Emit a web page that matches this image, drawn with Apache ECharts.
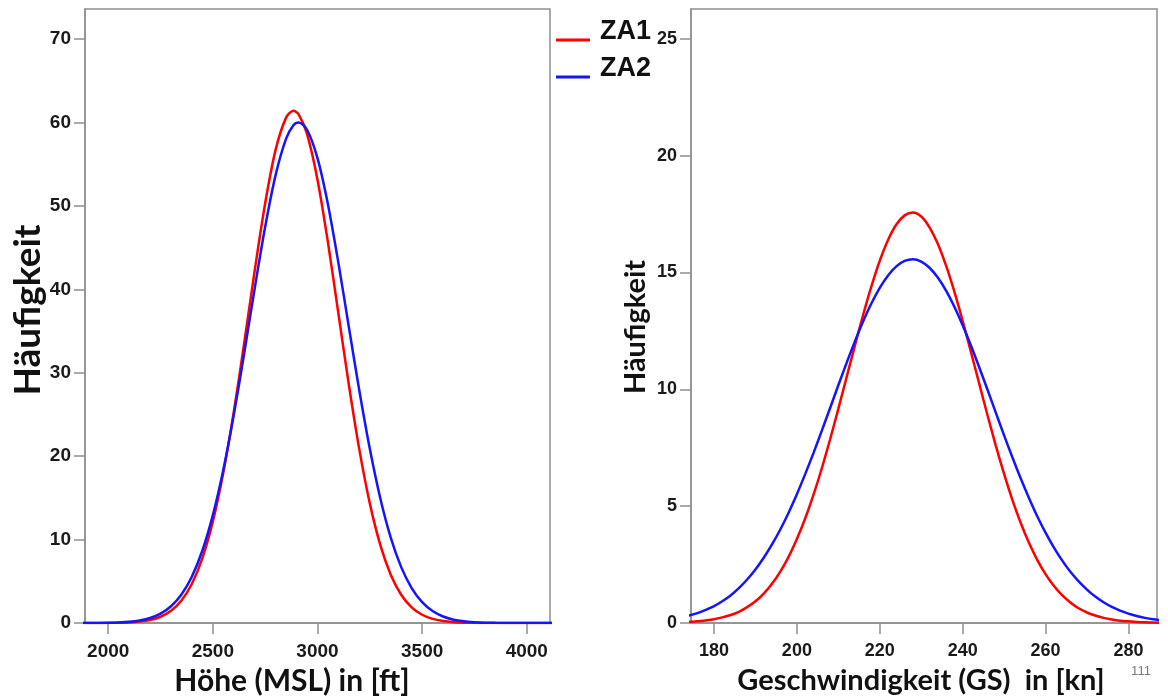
<!DOCTYPE html>
<html><head><meta charset="utf-8">
<script src="https://cdn.jsdelivr.net/npm/echarts@6/dist/echarts.min.js"></script>
<style>html,body{margin:0;padding:0;background:#fff}#c{width:1168px;height:698px}</style>
</head><body><div id="c"></div>
<script>
// ---- data ----
const heightX = [1850,1900,1950,2000,2050,2100,2150,2200,2250,2300,2350,2400,2450,2500,2550,2600,2650,2700,2750,2800,2850,2885,2910,2950,3000,3050,3100,3150,3200,3250,3300,3350,3400,3450,3500,3550,3600,3650,3700,3750,3800,3850,3900,3950,4000,4050,4100,4150];
const za1Height = [0,0,0,0.01,0.03,0.07,0.17,0.37,0.75,1.46,2.70,4.71,7.78,12.17,18.03,25.30,33.60,42.26,50.32,56.74,60.58,61.40,60.98,58.63,53.14,45.61,37.07,28.53,20.78,14.34,9.37,5.79,3.39,1.88,0.99,0.49,0.23,0.10,0.04,0.02,0.01,0,0,0,0,0,0,0];
const za2Height = [0,0.01,0.01,0.03,0.07,0.15,0.31,0.60,1.12,2.01,3.42,5.58,8.69,12.93,18.37,24.95,32.37,40.11,47.49,53.72,58.06,59.66,60.00,59.13,55.72,50.17,43.15,35.46,27.84,20.88,14.96,10.24,6.70,4.19,2.50,1.43,0.78,0.40,0.20,0.10,0.04,0.02,0.01,0,0,0,0,0];

const speedX = [172,174,176,178,180,182,184,186,188,190,192,194,196,198,200,202,204,206,208,210,212,214,216,218,220,222,224,226,228,230,232,234,236,238,240,242,244,246,248,250,252,254,256,258,260,262,264,266,268,270,272,274,276,278,280,282,284,286,288];
const za1Speed = [0.03,0.05,0.07,0.11,0.16,0.24,0.34,0.48,0.68,0.93,1.26,1.68,2.20,2.83,3.59,4.47,5.48,6.61,7.85,9.16,10.52,11.87,13.19,14.41,15.50,16.39,17.05,17.44,17.56,17.39,16.93,16.23,15.29,14.18,12.93,11.60,10.24,8.89,7.59,6.38,5.27,4.29,3.43,2.70,2.09,1.59,1.19,0.88,0.63,0.45,0.32,0.22,0.15,0.10,0.07,0.04,0.03,0.02,0.01];
const za2Speed = [0.24,0.32,0.42,0.56,0.72,0.93,1.18,1.49,1.86,2.29,2.79,3.36,4.00,4.72,5.51,6.37,7.27,8.22,9.19,10.17,11.13,12.05,12.91,13.68,14.34,14.87,15.26,15.49,15.56,15.46,15.20,14.78,14.22,13.53,12.74,11.87,10.94,9.98,9.00,8.03,7.09,6.19,5.35,4.57,3.87,3.24,2.68,2.19,1.78,1.43,1.13,0.89,0.69,0.53,0.40,0.30,0.22,0.16,0.12];

const heightTicks = [2000,2500,3000,3500,4000];
const heightCountTicks = [0,10,20,30,40,50,60,70];
const speedTicks = [180,200,220,240,260,280];
const speedCountTicks = [0,5,10,15,20,25];

const seriesNames = ['ZA1','ZA2'];
const xTitles = ['Höhe (MSL) in [ft]', 'Geschwindigkeit (GS)  in [kn]'];
const yTitle = 'Häufigkeit';
const pageNumber = '111';

// ---- chart ----
function zip(xs, ys){ return xs.map((x,i)=>[x, ys[i]]); }
const gray = '#8f8f8f';
const colors = ['#ff0000', '#1414ff'];
const plain = v => String(v);

function xAx(gridIndex, min, max, ticks, fs){
  return {type:'value', gridIndex, min, max,
    axisLine:{show:true, onZero:false, lineStyle:{color:gray, width:1.5}},
    axisTick:{show:true, length:11, customValues:ticks, lineStyle:{color:gray, width:1.5}},
    axisLabel:{customValues:ticks, formatter:plain, margin:19, color:'#1a1a1a', fontFamily:'Liberation Sans', fontWeight:'bold', fontSize:fs},
    splitLine:{show:false}};
}
function yAx(gridIndex, min, max, ticks, fs){
  return {type:'value', gridIndex, min, max,
    axisLine:{show:true, onZero:false, lineStyle:{color:gray, width:1.5}},
    axisTick:{show:true, length:11, customValues:ticks, lineStyle:{color:gray, width:1.5}},
    axisLabel:{customValues:ticks, formatter:plain, margin:14, color:'#1a1a1a', fontFamily:'Liberation Sans', fontWeight:'bold', fontSize:fs},
    splitLine:{show:false}};
}
function line(name, data, xi, color){
  return {type:'line', name, data, xAxisIndex:xi, yAxisIndex:xi, smooth:0.3, symbol:'none',
    lineStyle:{color, width:2.5}, itemStyle:{color}, clip:true};
}

const chart = echarts.init(document.getElementById('c'), null, {renderer:'canvas'});
chart.setOption({
  animation:false,
  backgroundColor:'#fff',
  grid:[
    {left:85, top:9, width:465, height:614, show:true, borderColor:gray, borderWidth:1.5, backgroundColor:'transparent'},
    {left:691, top:9, width:466, height:614, show:true, borderColor:gray, borderWidth:1.5, backgroundColor:'transparent'}
  ],
  xAxis:[ xAx(0, 1889, 4111, heightTicks, 19), xAx(1, 174.45, 286.9, speedTicks, 18) ],
  yAxis:[ yAx(0, 0, 73.6, heightCountTicks, 19), yAx(1, 0, 26.27, speedCountTicks, 18) ],
  legend:{
    data:seriesNames, orient:'vertical', left:551, top:13, itemWidth:34, itemHeight:26, itemGap:10,
    icon:'path://M0,0L0.1,0L0,0.1Z M0,20L34,20L34,23L0,23Z M34,26L33.9,26L34,25.9Z',
    itemStyle:{borderWidth:0}, selectedMode:false,
    textStyle:{fontFamily:'Liberation Sans', fontWeight:'bold', fontSize:27, color:'#111', padding:[0,0,0,5]}
  },
  series:[
    line(seriesNames[0], zip(heightX, za1Height), 0, colors[0]),
    line(seriesNames[1], zip(heightX, za2Height), 0, colors[1]),
    line(seriesNames[0], zip(speedX, za1Speed), 1, colors[0]),
    line(seriesNames[1], zip(speedX, za2Speed), 1, colors[1])
  ],
  graphic:[
    {type:'text', x:28, y:310, rotation:Math.PI/2, style:{text:yTitle, fontFamily:'Lato', fontWeight:'bold', fontSize:37, fill:'#111', align:'center', verticalAlign:'middle'}},
    {type:'text', x:636, y:327, rotation:Math.PI/2, style:{text:yTitle, fontFamily:'Lato', fontWeight:'bold', fontSize:29, fill:'#111', align:'center', verticalAlign:'middle'}},
    {type:'text', x:292, y:681, style:{text:xTitles[0], fontFamily:'Lato', fontWeight:'bold', fontSize:30, fill:'#111', align:'center', verticalAlign:'middle'}},
    {type:'text', x:921, y:681, style:{text:xTitles[1], fontFamily:'Lato', fontWeight:'bold', fontSize:29, fill:'#111', align:'center', verticalAlign:'middle'}},
    {type:'text', x:1141, y:671, style:{text:pageNumber, fontFamily:'Liberation Sans', fontSize:13, fill:'#7a7a7a', align:'center', verticalAlign:'middle'}}
  ]
});
</script></body></html>
